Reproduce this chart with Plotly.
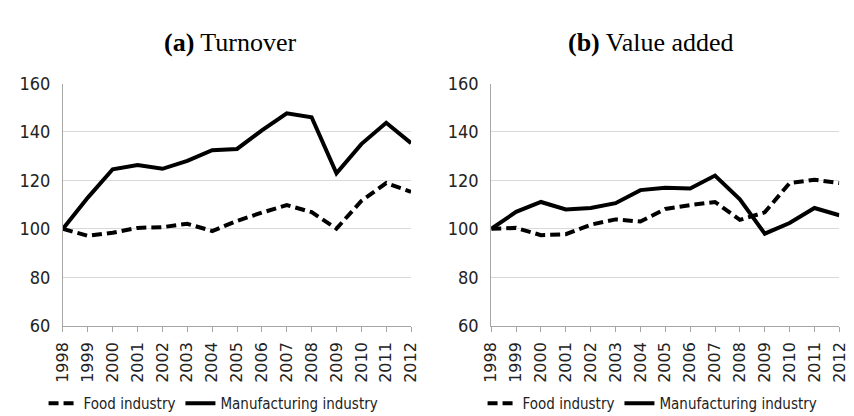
import plotly.graph_objects as go
from plotly.subplots import make_subplots

years = list(range(1998, 2013))

# (a) Turnover
turnover_food = [100, 97.1, 98.4, 100.4, 100.7, 102.1, 99.1, 103.3, 106.7, 109.8, 106.9, 100.1, 111.5, 118.9, 115.3]
turnover_manuf = [100, 112.9, 124.6, 126.4, 124.8, 128.1, 132.5, 133.0, 140.7, 147.7, 146.1, 122.9, 135.0, 143.8, 135.4]

# (b) Value added
va_food = [100, 100.4, 97.4, 97.8, 101.7, 103.9, 103.0, 108.2, 109.8, 111.1, 103.7, 106.8, 118.9, 120.3, 118.9]
va_manuf = [100, 107.0, 111.1, 108.0, 108.6, 110.6, 116.0, 117.0, 116.7, 122.0, 112.2, 98.0, 102.4, 108.6, 105.6]

y_ticks = [60, 80, 100, 120, 140, 160]

W, H = 854, 416
TICK_FONT = "DejaVu Sans Condensed, sans-serif"
TITLE_FONT = "Liberation Serif, serif"
GRID = "#d9d9d9"
AXIS = "#a6a6a6"

fig = make_subplots(rows=1, cols=2)

panels = [
    (1, turnover_food, turnover_manuf, "legend"),
    (2, va_food, va_manuf, "legend2"),
]
for col, food, manuf, leg in panels:
    fig.add_trace(go.Scatter(x=years, y=food, mode="lines", name="Food industry",
                             line=dict(color="black", width=4, dash="10px,5px"),
                             legend=leg), row=1, col=col)
    fig.add_trace(go.Scatter(x=years, y=manuf, mode="lines", name="Manufacturing industry",
                             line=dict(color="black", width=4),
                             legend=leg), row=1, col=col)

y_dom = [(H - 323) / H, (H - 68) / H]
leg_font = dict(family=TICK_FONT, size=15, color="#222")
fig.update_layout(
    width=W, height=H,
    margin=dict(l=0, r=0, t=0, b=0),
    paper_bgcolor="white", plot_bgcolor="white",
    xaxis=dict(domain=[46 / W, 402 / W]),
    xaxis2=dict(domain=[484 / W, 840 / W]),
    yaxis=dict(domain=y_dom),
    yaxis2=dict(domain=y_dom),
    legend=dict(orientation="h", x=200 / W, xanchor="center", y=(H - 405) / H, yanchor="middle",
                font=leg_font, itemwidth=30, tracegroupgap=0),
    legend2=dict(orientation="h", x=649 / W, xanchor="center", y=(H - 405) / H, yanchor="middle",
                 font=leg_font, itemwidth=30, tracegroupgap=0),
)

fig.update_xaxes(range=[1998, 2012], tickvals=years, tickangle=-90,
                 ticks="outside", ticklen=5, tickcolor=AXIS,
                 showline=True, linecolor=AXIS, linewidth=1,
                 showgrid=False, zeroline=False, ticklabelstandoff=4,
                 tickfont=dict(family="DejaVu Sans", size=16, color="#222"))
fig.update_yaxes(range=[60, 160], tickvals=y_ticks,
                 showline=True, linecolor=AXIS, linewidth=1,
                 showgrid=True, gridcolor=GRID, gridwidth=1, zeroline=False,
                 ticks="", ticklabelstandoff=8,
                 tickfont=dict(family=TICK_FONT, size=18, color="#222"))

for x, label in [(217, "<b>(a)</b> Turnover"), (647, "<b>(b)</b> Value added")]:
    fig.add_annotation(x=x / W, y=(H - 25) / H, xref="paper", yref="paper",
                       text=label, showarrow=False, xanchor="center", yanchor="middle",
                       font=dict(family=TITLE_FONT, size=26, color="black"))

fig.write_html("out.html")
